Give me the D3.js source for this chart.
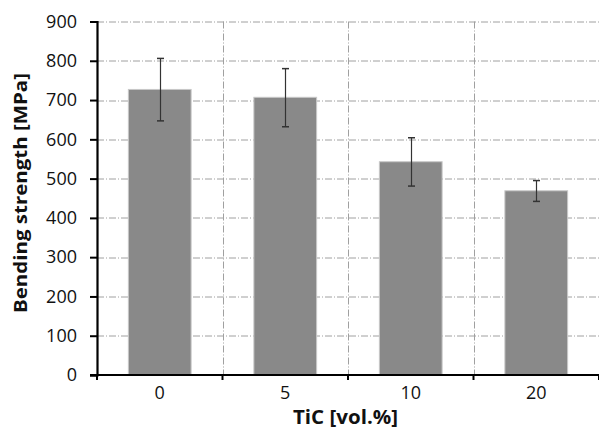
<!DOCTYPE html>
<html>
<head>
<meta charset="utf-8">
<script src="https://cdn.jsdelivr.net/npm/d3@7"></script>
<style>
  body { margin: 0; background: #fff; }
  text { font-family: "Open Sans", sans-serif; }
</style>
</head>
<body>
<svg id="chart" width="599" height="432"></svg>
<script>
const categories = ['0', '5', '10', '20'];
const strength = [727, 707, 543, 469];
const errLow = [647, 632, 481, 442];
const errHigh = [806, 780, 604, 495];
const yTicks = [0, 100, 200, 300, 400, 500, 600, 700, 800, 900];

const margin = { top: 21.5, right: 0, bottom: 57, left: 97 };
const width = 599 - margin.left - margin.right;
const height = 432 - margin.top - margin.bottom;

const svg = d3.select('#chart');
const g = svg.append('g')
  .attr('transform', `translate(${margin.left},${margin.top})`);

const x = d3.scaleBand()
  .domain(categories)
  .range([0, width])
  .padding(0);

const y = d3.scaleLinear()
  .domain([0, 900])
  .range([height, 0]);

// grid
const gridDash = '7,2,1,2';
g.append('g')
  .selectAll('line')
  .data(yTicks.slice(1))
  .join('line')
  .attr('x1', 0)
  .attr('x2', width)
  .attr('y1', (d) => Math.round(y(d)) + 0.5)
  .attr('y2', (d) => Math.round(y(d)) + 0.5)
  .attr('stroke', '#a0a0a0')
  .attr('stroke-width', 1)
  .attr('stroke-dasharray', gridDash);

g.append('g')
  .selectAll('line')
  .data(categories.slice(1))
  .join('line')
  .attr('x1', (d) => Math.round(x(d)) + 0.5)
  .attr('x2', (d) => Math.round(x(d)) + 0.5)
  .attr('y1', 0)
  .attr('y2', height)
  .attr('stroke', '#a0a0a0')
  .attr('stroke-width', 1)
  .attr('stroke-dasharray', gridDash);

// bars
const barW = x.bandwidth() * 0.5;
g.append('g')
  .selectAll('rect')
  .data(categories)
  .join('rect')
  .attr('x', (d) => x(d) + (x.bandwidth() - barW) / 2)
  .attr('y', (d, i) => y(strength[i]))
  .attr('width', barW)
  .attr('height', (d, i) => height - y(strength[i]))
  .attr('fill', '#898989')
  .attr('stroke', '#c8c8c8')
  .attr('stroke-width', 1);

// error bars
const eb = g.append('g')
  .selectAll('g')
  .data(categories)
  .join('g')
  .attr('transform', (d) => `translate(${Math.round(x(d) + x.bandwidth() / 2) + 0.5},0)`);

eb.append('line')
  .attr('y1', (d, i) => y(errHigh[i]))
  .attr('y2', (d, i) => y(errLow[i]))
  .attr('stroke', '#333')
  .attr('stroke-width', 1.2);

eb.append('line')
  .attr('x1', -3.5)
  .attr('x2', 3.5)
  .attr('y1', (d, i) => y(errHigh[i]))
  .attr('y2', (d, i) => y(errHigh[i]))
  .attr('stroke', '#333')
  .attr('stroke-width', 1.5);

eb.append('line')
  .attr('x1', -3.5)
  .attr('x2', 3.5)
  .attr('y1', (d, i) => y(errLow[i]))
  .attr('y2', (d, i) => y(errLow[i]))
  .attr('stroke', '#333')
  .attr('stroke-width', 1.5);

// y axis
const yAxis = g.append('g')
  .call(d3.axisLeft(y).tickValues(yTicks).tickSize(7).tickPadding(13));
yAxis.select('.domain').attr('stroke', '#000').attr('stroke-width', 2.2);
yAxis.selectAll('.tick line').attr('stroke', '#000').attr('stroke-width', 2);
yAxis.selectAll('.tick text')
  .attr('font-size', 18)
  .attr('fill', '#111');

// x axis with ticks at band boundaries
const boundaries = d3.range(categories.length + 1).map((i) => i * x.step());
const xAxis = g.append('g')
  .attr('transform', `translate(0,${height})`);
xAxis.append('line')
  .attr('x1', -7)
  .attr('x2', width)
  .attr('stroke', '#000')
  .attr('stroke-width', 2.2);
xAxis.selectAll('line.tk')
  .data(boundaries)
  .join('line')
  .attr('class', 'tk')
  .attr('x1', (d) => d)
  .attr('x2', (d) => d)
  .attr('y1', 0)
  .attr('y2', 5)
  .attr('stroke', '#000')
  .attr('stroke-width', 2);
xAxis.selectAll('text')
  .data(categories)
  .join('text')
  .attr('x', (d) => x(d) + x.bandwidth() / 2)
  .attr('y', 23.5)
  .attr('text-anchor', 'middle')
  .attr('font-size', 18)
  .attr('fill', '#111')
  .text((d) => d);

// axis titles
svg.append('text')
  .attr('x', 293)
  .attr('y', 424)
  .attr('font-size', 19)
  .attr('font-weight', 'bold')
  .attr('fill', '#111')
  .attr('textLength', 105)
  .attr('lengthAdjust', 'spacingAndGlyphs')
  .text('TiC [vol.%]');

svg.append('text')
  .attr('transform', 'translate(27,313) rotate(-90)')
  .attr('font-size', 18.5)
  .attr('font-weight', 'bold')
  .attr('fill', '#111')
  .attr('textLength', 240)
  .attr('lengthAdjust', 'spacingAndGlyphs')
  .text('Bending strength [MPa]');
</script>
</body>
</html>
